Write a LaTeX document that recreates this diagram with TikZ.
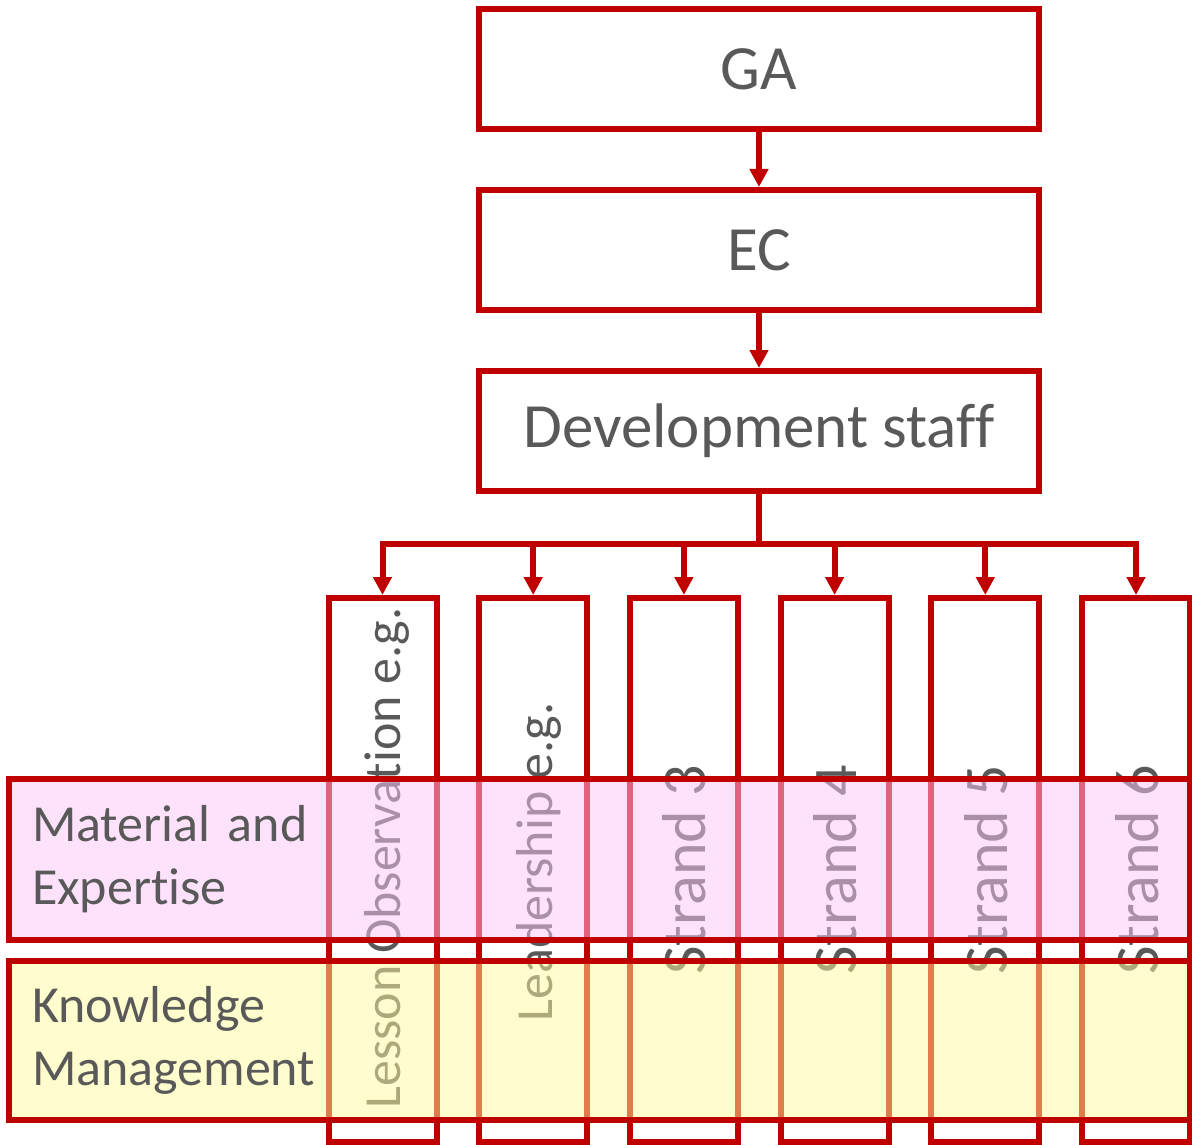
\documentclass[tikz,border=0pt]{standalone}
\usepackage{fontspec}
\setmainfont{Carlito}[Ligatures=NoCommon]
\usetikzlibrary{arrows.meta}
\usetikzlibrary{positioning}
\usetikzlibrary{calc}

\definecolor{boxred}{HTML}{C00000}
\definecolor{textgrey}{HTML}{595959}
\definecolor{bandpink}{RGB}{254,198,249}
\definecolor{bandyellow}{RGB}{255,251,155}

\begin{document}
\begin{tikzpicture}[
        x=1pt, y=-1pt,
        line width=6pt,
        node distance=55pt,
        every node/.style={text=textgrey},
        level/.style = {draw=boxred,
                        minimum width=560pt,
                        minimum height=120pt,
                        font=\fontsize{63}{75}\selectfont},
        strandbox/.style = {draw=boxred,
                            minimum width=108pt,
                            minimum height=544pt},
        strandtext/.style = {rotate=90, anchor=base,
                             font=\fontsize{62}{74}\selectfont},
        band/.style = {draw=boxred,
                       fill opacity=0.5, text opacity=1,
                       minimum width=1181pt,
                       text width=1135pt, inner xsep=23pt, align=left,
                       font=\fontsize{52}{63}\selectfont},
        link/.style = {draw=boxred, -{Triangle[length=18pt,width=18pt]}}
        ]
        \useasboundingbox (0,0) rectangle (1192,1145);
        \node[level] (GA) at (759,69) {GA};
        \node[level] [below = of GA] (EC) {EC};
        \node[level] [below = of EC] (Staff) {Development staff};
        \draw [link] (GA) -- (EC);
        \draw [link] (EC) -- (Staff);
        % strands
        \node[strandbox] (Strand1) at (382.5,870) {};
        \node[strandbox] [right = 36.7pt of Strand1] (Strand2) {};
        \node[strandbox] [right = 36.7pt of Strand2] (Strand3) {};
        \node[strandbox] [right = 36.7pt of Strand3] (Strand4) {};
        \node[strandbox] [right = 36.7pt of Strand4] (Strand5) {};
        \node[strandbox] [right = 36.7pt of Strand5] (Strand6) {};
        \node[strandtext, font=\fontsize{52}{62}\selectfont] (Lesson) at ([xshift=17.5pt, yshift=12pt]Strand1.center) {Lesson Observation e.g.};
        \node[strandtext, font=\fontsize{52}{62}\selectfont] (Leader) at ([xshift=19pt, yshift=8pt]Strand2.center) {Leadership e.g.};
        \node[strandtext] (Label3) at ([xshift=22pt]Strand3.center) {Strand 3};
        \node[strandtext] (Label4) at ([xshift=22pt]Strand4.center) {Strand 4};
        \node[strandtext] (Label5) at ([xshift=22pt]Strand5.center) {Strand 5};
        \node[strandtext] (Label6) at ([xshift=22pt]Strand6.center) {Strand 6};
        \coordinate (Bus) at ($(Staff.south)+(0,50)$);
        \draw [draw=boxred] (Staff.south) -- (Bus);
        \draw [link] (Bus) -| (Strand1.north);
        \draw [link] (Bus) -| (Strand2.north);
        \draw [link] (Bus) -| (Strand3.north);
        \draw [link] (Bus) -| (Strand4.north);
        \draw [link] (Bus) -| (Strand5.north);
        \draw [link] (Bus) -| (Strand6.north);
        % bands over the strands
        \node[band, fill=bandpink, minimum height=161pt] (Material) at (599.5,859.5) {Material and\\Expertise};
        \node[band, fill=bandyellow, minimum height=159pt] (Knowledge) at (599.5,1040.5) {Knowledge\\Management};
    \end{tikzpicture}
\end{document}
